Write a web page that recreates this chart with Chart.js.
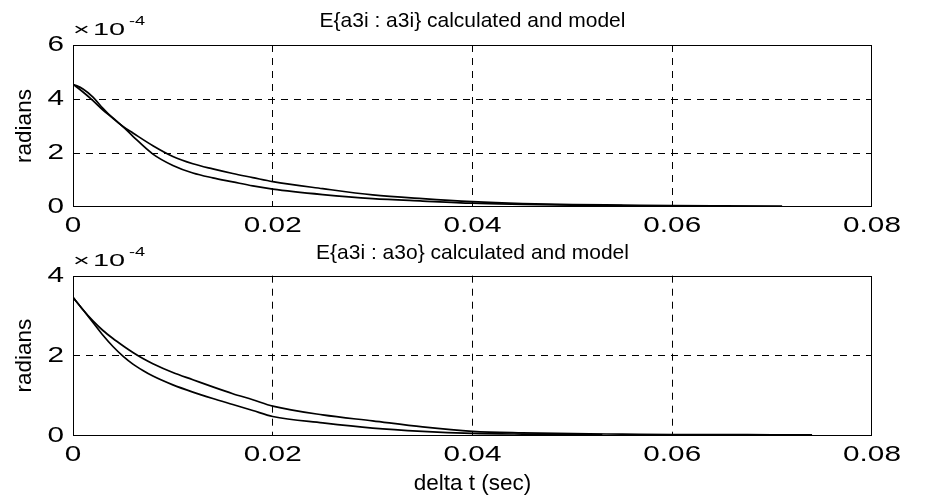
<!DOCTYPE html>
<html>
<head>
<meta charset="utf-8">
<script src="https://cdn.jsdelivr.net/npm/chart.js@4.4.1/dist/chart.umd.min.js"></script>
<style>
  html, body { margin: 0; padding: 0; background: #fff; }
  #wrap { position: relative; width: 950px; height: 498px; overflow: hidden; background: #fff; }
  #top { position: absolute; left: 0; top: 0; }
  #bottom { position: absolute; left: 0; top: 240px; }
</style>
</head>
<body>
<div id="wrap">
  <canvas id="top" width="950" height="240"></canvas>
  <canvas id="bottom" width="950" height="258"></canvas>
</div>
<script>
// Axis ticks
const X_TICKS = [0, 0.02, 0.04, 0.06, 0.08];
const X_TICK_LABELS = ['0', '0.02', '0.04', '0.06', '0.08'];
const Y_TICKS_TOP = [0, 2, 4, 6];
const Y_TICKS_BOTTOM = [0, 2, 4];
const Y_EXPONENT = -4;   // y values are in units of 1e-4 rad

// E{a3i : a3i}  (delta t in s, value in 1e-4 rad)
const tA3iCalc = [0, 0.001, 0.002, 0.003, 0.004, 0.005, 0.006, 0.008, 0.010, 0.012, 0.014, 0.016, 0.018, 0.020, 0.025, 0.030, 0.035, 0.040, 0.045, 0.050, 0.055];
const a3iCalc  = [4.55, 4.37, 4.07, 3.65, 3.28, 2.98, 2.62, 1.96, 1.54, 1.26, 1.08, 0.93, 0.78, 0.66, 0.46, 0.31, 0.22, 0.14, 0.10, 0.07, 0.05];
const tA3iModel = [0, 0.001, 0.002, 0.003, 0.004, 0.005, 0.006, 0.008, 0.010, 0.012, 0.014, 0.016, 0.018, 0.020, 0.025, 0.030, 0.035, 0.040, 0.045, 0.050, 0.055, 0.060, 0.065, 0.071];
const a3iModel  = [4.55, 4.26, 3.94, 3.59, 3.30, 2.98, 2.74, 2.27, 1.87, 1.60, 1.41, 1.24, 1.09, 0.94, 0.68, 0.45, 0.31, 0.20, 0.13, 0.09, 0.07, 0.05, 0.04, 0.03];

// E{a3i : a3o}
const tA3oCalc = [0, 0.001, 0.002, 0.003, 0.004, 0.005, 0.006, 0.007, 0.008, 0.010, 0.012, 0.014, 0.016, 0.018, 0.020, 0.025, 0.030, 0.035, 0.040, 0.045, 0.050, 0.053];
const a3oCalc  = [3.46, 3.15, 2.83, 2.51, 2.23, 1.99, 1.79, 1.63, 1.49, 1.27, 1.09, 0.93, 0.78, 0.63, 0.48, 0.32, 0.19, 0.11, 0.06, 0.04, 0.03, 0.03];
const tA3oModel = [0, 0.001, 0.002, 0.003, 0.004, 0.005, 0.006, 0.007, 0.008, 0.010, 0.012, 0.014, 0.016, 0.018, 0.020, 0.025, 0.030, 0.035, 0.040, 0.045, 0.050, 0.055, 0.060, 0.065, 0.070, 0.074];
const a3oModel  = [3.46, 3.15, 2.87, 2.63, 2.43, 2.25, 2.08, 1.93, 1.80, 1.58, 1.40, 1.22, 1.05, 0.90, 0.74, 0.52, 0.37, 0.22, 0.11, 0.07, 0.05, 0.04, 0.03, 0.03, 0.02, 0.02];

const FONT_FAMILY = '"Liberation Sans", Arial, Helvetica, sans-serif';
// horizontal stretch per font size for the wide axis lettering
const TEXT_STRETCH = { '22': 1.35, '17': 1.7, '13': 1.4 };

Chart.defaults.color = '#000';
Chart.defaults.font.family = FONT_FAMILY;

function widenText(ctx) {
  if (ctx.__widened) return;
  const fill = ctx.fillText;
  ctx.fillText = function (text, x, y, maxWidth) {
    const m = /([\d.]+)px/.exec(this.font);
    const k = (m && TEXT_STRETCH[m[1]]) || 1;
    if (k === 1) return fill.apply(this, arguments);
    this.save();
    this.translate(x, y);
    this.scale(k, 1);
    if (maxWidth === undefined) fill.call(this, text, 0, 0);
    else fill.call(this, text, 0, 0, maxWidth / k);
    this.restore();
  };
  ctx.__widened = true;
}

// solid box around the plot area plus the "x 10^-4" multiplier
const framePlugin = {
  id: 'frame',
  beforeDraw(chart) { widenText(chart.ctx); },
  afterDraw(chart) {
    const { ctx, chartArea: a } = chart;
    ctx.save();
    ctx.setLineDash([]);
    ctx.strokeStyle = '#000';
    ctx.lineWidth = 1;
    const l = Math.round(a.left) + 0.5, t = Math.round(a.top) + 0.5;
    const r = Math.round(a.right) - 0.5, b = Math.round(a.bottom) - 0.5;
    ctx.strokeRect(l, t, r - l, b - t);

    ctx.fillStyle = '#000';
    ctx.textAlign = 'left';
    ctx.textBaseline = 'alphabetic';
    const base = a.top - 10;
    ctx.font = '17px ' + FONT_FAMILY;
    ctx.fillText('\u00d7', a.left, base);
    ctx.fillText('10', a.left + 20, base);
    ctx.font = '13px ' + FONT_FAMILY;
    ctx.fillText(String(Y_EXPONENT), a.left + 56, base - 10);
    ctx.restore();
  }
};

function points(ts, vs) { return ts.map((t, i) => ({ x: t, y: vs[i] })); }

function lineSet(ts, vs) {
  return {
    data: points(ts, vs),
    borderColor: '#000',
    borderWidth: 1.7,
    pointRadius: 0,
    fill: false,
    cubicInterpolationMode: 'monotone'
  };
}

function edgeAware(max) {
  return (c) => (c.tick && (c.tick.value === 0 || Math.abs(c.tick.value - max) < 1e-9)) ? 'rgba(0,0,0,0)' : '#000';
}

function makeChart(id, opts) {
  const xMax = X_TICKS[X_TICKS.length - 1];
  const yMax = opts.yTicks[opts.yTicks.length - 1];
  return new Chart(document.getElementById(id), {
    type: 'line',
    data: { datasets: opts.series },
    plugins: [framePlugin],
    options: {
      responsive: false,
      animation: false,
      devicePixelRatio: 1,
      layout: { padding: { left: 0, right: 78, top: 0, bottom: 0 } },
      plugins: {
        legend: { display: false },
        tooltip: { enabled: false },
        title: {
          display: true,
          fullSize: false,
          text: opts.title,
          color: '#000',
          font: { size: 21, weight: 'normal', family: FONT_FAMILY },
          padding: opts.titlePadding
        }
      },
      scales: {
        x: {
          type: 'linear',
          min: 0,
          max: xMax,
          afterBuildTicks: (s) => { s.ticks = X_TICKS.map(v => ({ value: v })); },
          afterFit: (s) => { s.height = opts.xAxisHeight; },
          ticks: {
            autoSkip: false,
            maxRotation: 0,
            padding: 6,
            font: { size: 22, family: FONT_FAMILY },
            callback: (v, i) => X_TICK_LABELS[i]
          },
          grid: { drawTicks: false, lineWidth: 1, color: edgeAware(xMax) },
          border: { display: false, dash: [7, 6] },
          title: opts.xTitle ? {
            display: true,
            text: opts.xTitle,
            font: { size: 22.5, weight: 'normal', family: FONT_FAMILY },
            padding: { top: 0, bottom: 1 }
          } : { display: false }
        },
        y: {
          type: 'linear',
          min: 0,
          max: yMax,
          afterBuildTicks: (s) => { s.ticks = opts.yTicks.map(v => ({ value: v })); },
          afterFit: (s) => { s.width = 73; },
          ticks: {
            padding: 9,
            font: { size: 22, family: FONT_FAMILY },
            callback: (v) => String(v)
          },
          grid: { drawTicks: false, lineWidth: 1, color: edgeAware(yMax) },
          border: { display: false, dash: [7, 6] },
          title: {
            display: true,
            text: 'radians',
            font: { size: 22.5, weight: 'normal', family: FONT_FAMILY },
            padding: { top: 11.7, bottom: 0 }
          }
        }
      }
    }
  });
}

makeChart('top', {
  title: 'E{a3i : a3i} calculated and model',
  titlePadding: { top: 8.4, bottom: 11.4 },
  yTicks: Y_TICKS_TOP,
  xAxisHeight: 33,
  series: [lineSet(tA3iCalc, a3iCalc), lineSet(tA3iModel, a3iModel)]
});

makeChart('bottom', {
  title: 'E{a3i : a3o} calculated and model',
  titlePadding: { top: 0.8, bottom: 9.7 },
  yTicks: Y_TICKS_BOTTOM,
  xAxisHeight: 62.3,
  xTitle: 'delta t (sec)',
  series: [lineSet(tA3oCalc, a3oCalc), lineSet(tA3oModel, a3oModel)]
});
</script>
</body>
</html>
